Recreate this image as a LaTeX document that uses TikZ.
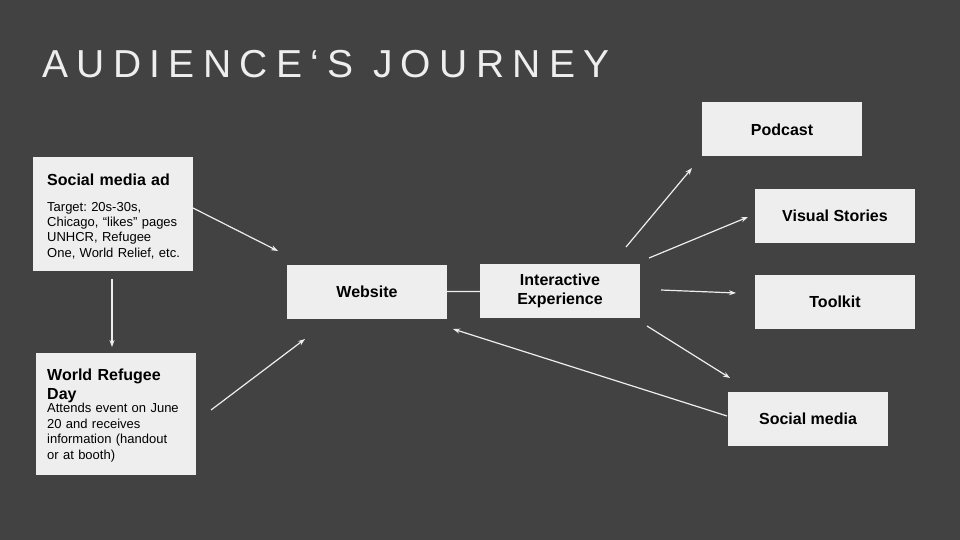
\documentclass[tikz,border=0pt]{standalone}
\usepackage{fontspec}
\setmainfont{Liberation Sans}
\frenchspacing
\usetikzlibrary{arrows.meta}
\definecolor{slate}{HTML}{424242}
\definecolor{paper}{HTML}{EEEEEE}
\begin{document}
\begin{tikzpicture}[x=1pt,y=-1pt,
  box/.style={fill=paper,minimum width=160pt,minimum height=54pt,inner sep=0pt,align=center,text=black,font=\bfseries\fontsize{16}{18.4}\selectfont},
  head/.style={anchor=base west,inner sep=0pt,text width=150pt,align=left,font=\bfseries\fontsize{16}{18.3}\selectfont},
  body/.style={anchor=base west,inner sep=0pt,text width=150pt,align=left,font=\fontsize{13}{15.5}\selectfont},
  arr/.style={draw=paper,line width=1.2pt,-{Stealth[length=7pt,width=5pt]}}]
  \fill[slate] (0,0) rectangle (960,540);
  \node[anchor=base west,inner sep=0pt,text=paper,font=\fontsize{39}{47}\selectfont\addfontfeatures{LetterSpace=21.5}] (title) at (42,78) {AUDIENCE‘S JOURNEY};
  \node[box,minimum height=114pt] (ad) at (113,214) {};
  \node[box,minimum height=122pt] (wrd) at (116,414) {};
  \node[head] (adhead) at (47,185.7) {Social media ad};
  \node[body] (adbody) at (47,211) {Target: 20s-30s,\\Chicago, “likes” pages\\UNHCR, Refugee\\One, World Relief, etc.};
  \node[head] (wrdhead) at (47,380.7) {World Refugee\\Day};
  \node[body] (wrdbody) at (47,412.7) {Attends event on June\\20 and receives\\information (handout\\or at booth)};
  \node[box] (web) at (367,292) {Website};
  \node[box] (ix) at (560,291) {Interactive\\Experience};
  \node[box] (pod) at (782,129.5) {Podcast};
  \node[box] (vis) at (835,215.5) {Visual Stories};
  \node[box] (tool) at (835,302) {Toolkit};
  \node[box] (soc) at (808,418.5) {Social media};
  \coordinate (ad1) at (193,208); \coordinate (web1) at (278,251);
  \coordinate (ad2) at (112,279); \coordinate (wrd1) at (112,347);
  \coordinate (wrd2) at (211,410); \coordinate (web2) at (305,339);
  \coordinate (ix1) at (626,247); \coordinate (pod1) at (692,168);
  \coordinate (ix2) at (649,258); \coordinate (vis1) at (748,217);
  \coordinate (ix3) at (661,290); \coordinate (tool1) at (736,293);
  \coordinate (ix4) at (647,326); \coordinate (soc1) at (730,378);
  \coordinate (soc2) at (727,416); \coordinate (web3) at (453,329);
  \draw[arr] (ad1) -- (web1);
  \draw[arr] (ad2) -- (wrd1);
  \draw[arr] (wrd2) -- (web2);
  \draw[paper,line width=1.2pt] (web) -- (ix);
  \draw[arr] (ix1) -- (pod1);
  \draw[arr] (ix2) -- (vis1);
  \draw[arr] (ix3) -- (tool1);
  \draw[arr] (ix4) -- (soc1);
  \draw[arr] (soc2) -- (web3);
\end{tikzpicture}
\end{document}
